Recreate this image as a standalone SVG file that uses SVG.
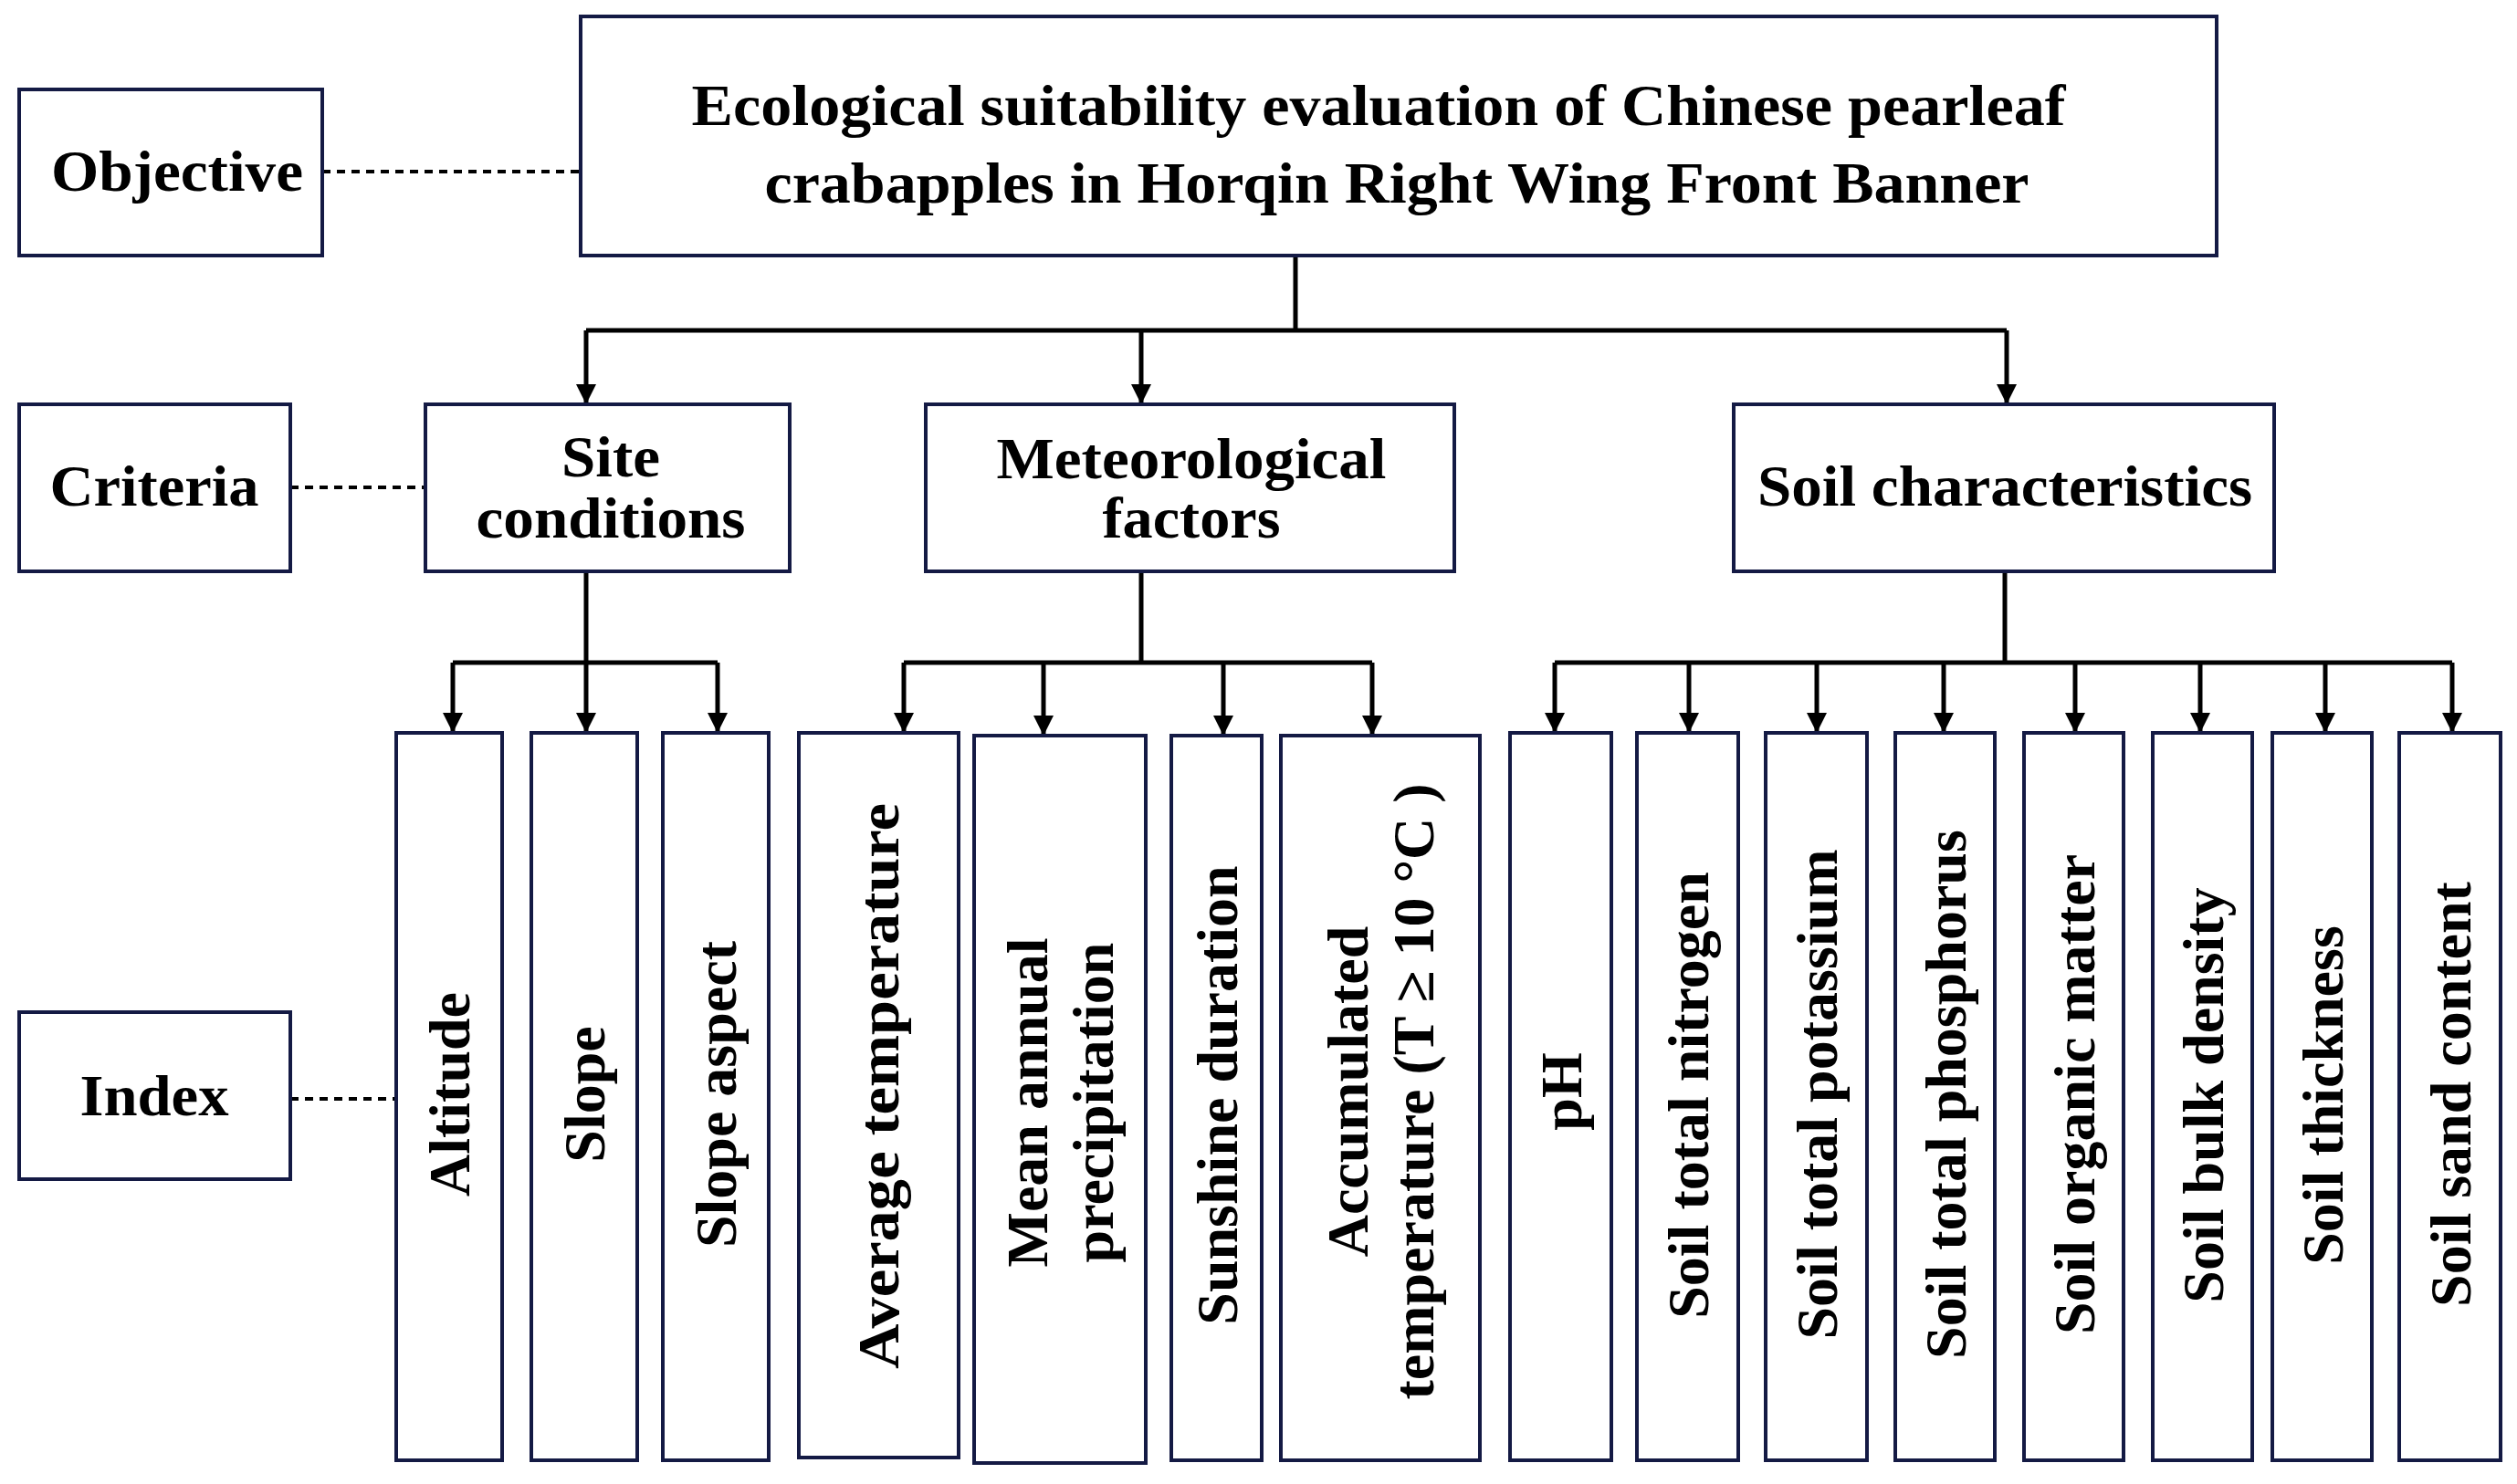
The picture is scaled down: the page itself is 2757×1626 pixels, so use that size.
<svg xmlns="http://www.w3.org/2000/svg" width="2757" height="1626" viewBox="0 0 2757 1626">
<style>
.b{fill:#fff;stroke:#141a44;stroke-width:4}
.t{font-family:"Liberation Serif","Times New Roman",serif;font-weight:bold;font-size:64px;fill:#000;text-anchor:middle}
.v{font-family:"Liberation Serif","Times New Roman",serif;font-weight:bold;font-size:64px;fill:#000;text-anchor:middle;dominant-baseline:central}
.c{stroke:#000;stroke-width:5;fill:none}
.d{stroke:#000;stroke-width:4;stroke-dasharray:9 7;fill:none}
</style>
<defs><marker id="a" viewBox="0 0 10 10" refX="10" refY="5" markerWidth="22" markerHeight="22" markerUnits="userSpaceOnUse" orient="auto"><path d="M0,0 L10,5 L0,10 z" fill="#000"/></marker></defs>
<rect width="2757" height="1626" fill="#fff"/>
<g id="connectors">
<path class="d" d="M353,188H636M318,534H466M318,1204H434"/>
<path class="c" d="M1419,280V362M642,362H2198"/>
<path class="c" marker-end="url(#a)" d="M642,362V443"/>
<path class="c" marker-end="url(#a)" d="M1250,362V443"/>
<path class="c" marker-end="url(#a)" d="M2198,362V443"/>
<path class="c" d="M642,626V726M496,726H786M1250,626V726M990,726H1503M2196,626V726M1703,726H2686"/>
<path class="c" marker-end="url(#a)" d="M496,726V803"/>
<path class="c" marker-end="url(#a)" d="M642,726V803"/>
<path class="c" marker-end="url(#a)" d="M786,726V803"/>
<path class="c" marker-end="url(#a)" d="M990,726V803"/>
<path class="c" marker-end="url(#a)" d="M1143,726V806"/>
<path class="c" marker-end="url(#a)" d="M1340,726V806"/>
<path class="c" marker-end="url(#a)" d="M1503,726V806"/>
<path class="c" marker-end="url(#a)" d="M1703,726V803"/>
<path class="c" marker-end="url(#a)" d="M1850,726V803"/>
<path class="c" marker-end="url(#a)" d="M1990,726V803"/>
<path class="c" marker-end="url(#a)" d="M2129,726V803"/>
<path class="c" marker-end="url(#a)" d="M2273,726V803"/>
<path class="c" marker-end="url(#a)" d="M2410,726V803"/>
<path class="c" marker-end="url(#a)" d="M2547,726V803"/>
<path class="c" marker-end="url(#a)" d="M2686,726V803"/>
</g>
<g id="objective"><rect class="b" x="21" y="98" width="332" height="182"/><text class="t" x="194" y="209" textLength="276" lengthAdjust="spacingAndGlyphs">Objective</text></g>
<g id="goal"><rect class="b" x="636" y="18" width="1792" height="262"/>
<text class="t" x="1510" y="137" textLength="1505" lengthAdjust="spacingAndGlyphs">Ecological suitability evaluation of Chinese pearleaf</text>
<text class="t" x="1530" y="222" textLength="1385" lengthAdjust="spacingAndGlyphs">crabapples in Horqin Right Wing Front Banner</text></g>
<g id="criteria"><rect class="b" x="21" y="443" width="297" height="183"/><text class="t" x="169" y="554" textLength="229" lengthAdjust="spacingAndGlyphs">Criteria</text></g>
<g id="site"><rect class="b" x="466" y="443" width="399" height="183"/><text class="t" x="669" y="522" textLength="108" lengthAdjust="spacingAndGlyphs">Site</text><text class="t" x="669" y="589" textLength="295" lengthAdjust="spacingAndGlyphs">conditions</text></g>
<g id="met"><rect class="b" x="1014" y="443" width="579" height="183"/><text class="t" x="1305" y="524" textLength="427" lengthAdjust="spacingAndGlyphs">Meteorological</text><text class="t" x="1305" y="589" textLength="195" lengthAdjust="spacingAndGlyphs">factors</text></g>
<g id="soil"><rect class="b" x="1899" y="443" width="592" height="183"/><text class="t" x="2196" y="554" textLength="542" lengthAdjust="spacingAndGlyphs">Soil characteristics</text></g>
<g id="index"><rect class="b" x="21" y="1109" width="297" height="183"/><text class="t" x="169" y="1222" textLength="163" lengthAdjust="spacingAndGlyphs">Index</text></g>
<g id="altitude"><rect class="b" x="434" y="803" width="116" height="797"/><text class="v" transform="translate(492,1199) rotate(-90)">Altitude</text></g>
<g id="slope"><rect class="b" x="582" y="803" width="116" height="797"/><text class="v" transform="translate(640,1199) rotate(-90)">Slope</text></g>
<g id="aspect"><rect class="b" x="726" y="803" width="116" height="797"/><text class="v" transform="translate(784,1199) rotate(-90)">Slope aspect</text></g>
<g id="avgtemp"><rect class="b" x="875" y="803" width="175" height="794"/><text class="v" transform="translate(962,1190) rotate(-90)" textLength="620" lengthAdjust="spacingAndGlyphs">Average temperature</text></g>
<g id="precip"><rect class="b" x="1067" y="806" width="188" height="797"/><text class="v" transform="translate(1161,1208) rotate(-90)"><tspan x="0" y="-36">Mean annual</tspan><tspan x="0" y="36">precipitation</tspan></text></g>
<g id="sunshine"><rect class="b" x="1283" y="806" width="99" height="794"/><text class="v" transform="translate(1333,1200) rotate(-90)">Sunshine duration</text></g>
<g id="accum"><rect class="b" x="1403" y="806" width="218" height="794"/><text class="v" transform="translate(1512,1196) rotate(-90)"><tspan x="0" y="-36">Accumulated</tspan><tspan x="0" y="36">temperature (T ≥ 10 °C )</tspan></text></g>
<g id="ph"><rect class="b" x="1654" y="803" width="111" height="797"/><text class="v" transform="translate(1710,1196) rotate(-90)" fill="#2a1410">pH</text></g>
<g id="n"><rect class="b" x="1793" y="803" width="111" height="797"/><text class="v" transform="translate(1849,1200) rotate(-90)">Soil total nitrogen</text></g>
<g id="k"><rect class="b" x="1934" y="803" width="111" height="797"/><text class="v" transform="translate(1990,1199) rotate(-90)">Soil total potassium</text></g>
<g id="p"><rect class="b" x="2076" y="803" width="109" height="797"/><text class="v" transform="translate(2131,1199) rotate(-90)">Soil total phosphorus</text></g>
<g id="om"><rect class="b" x="2217" y="803" width="109" height="797"/><text class="v" transform="translate(2272,1199) rotate(-90)">Soil organic matter</text></g>
<g id="bd"><rect class="b" x="2358" y="803" width="109" height="797"/><text class="v" transform="translate(2413,1200) rotate(-90)">Soil bulk density</text></g>
<g id="th"><rect class="b" x="2489" y="803" width="109" height="797"/><text class="v" transform="translate(2544,1200) rotate(-90)">Soil thickness</text></g>
<g id="sand"><rect class="b" x="2628" y="803" width="111" height="797"/><text class="v" transform="translate(2684,1199) rotate(-90)">Soil sand content</text></g>
</svg>
